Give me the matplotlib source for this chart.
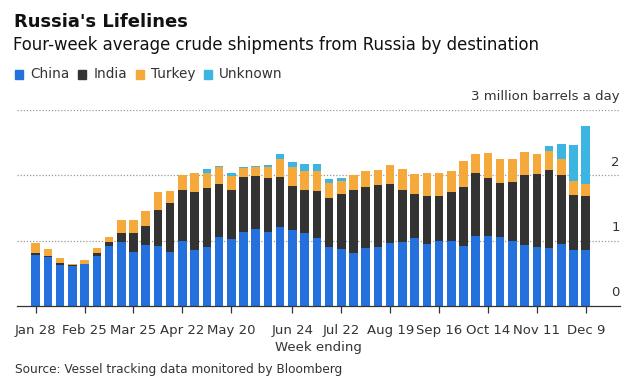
import numpy as np
import pandas as pd
from matplotlib import pyplot as plt

# weekly bars, week ending Fridays of 2022
weeks = pd.date_range("2022-01-28", "2022-12-09", freq="7D")

# million barrels a day, four-week average
china = [0.78, 0.75, 0.63, 0.61, 0.65, 0.77, 0.92, 0.98, 0.83, 0.93,
         0.92, 0.83, 0.99, 0.86, 0.91, 1.06, 1.03, 1.13, 1.18, 1.14,
         1.21, 1.16, 1.12, 1.04, 0.90, 0.88, 0.81, 0.89, 0.91, 0.97,
         0.98, 1.04, 0.95, 1.00, 1.00, 0.92, 1.07, 1.07, 1.06, 1.00,
         0.94, 0.90, 0.89, 0.95, 0.86, 0.86]
india = [0.03, 0.02, 0.03, 0.02, 0.00, 0.04, 0.06, 0.13, 0.28, 0.29,
         0.55, 0.74, 0.78, 0.89, 0.89, 0.81, 0.75, 0.84, 0.81, 0.82,
         0.77, 0.68, 0.66, 0.72, 0.75, 0.84, 0.97, 0.93, 0.94, 0.89,
         0.80, 0.68, 0.73, 0.69, 0.75, 0.90, 0.96, 0.89, 0.82, 0.90,
         1.06, 1.12, 1.19, 1.05, 0.84, 0.83]
turkey = [0.15, 0.10, 0.08, 0.01, 0.05, 0.08, 0.07, 0.21, 0.21, 0.24,
          0.28, 0.19, 0.24, 0.29, 0.24, 0.25, 0.21, 0.14, 0.13, 0.17,
          0.27, 0.29, 0.28, 0.30, 0.24, 0.19, 0.22, 0.25, 0.23, 0.30,
          0.32, 0.30, 0.36, 0.35, 0.32, 0.40, 0.29, 0.38, 0.37, 0.35,
          0.36, 0.31, 0.30, 0.25, 0.22, 0.17]
unknown = [0.00, 0.00, 0.00, 0.00, 0.00, 0.00, 0.00, 0.00, 0.00, 0.00,
           0.00, 0.00, 0.00, 0.00, 0.05, 0.02, 0.04, 0.02, 0.02, 0.03,
           0.07, 0.07, 0.11, 0.11, 0.06, 0.05, 0.00, 0.00, 0.00, 0.00,
           0.00, 0.00, 0.00, 0.00, 0.00, 0.00, 0.00, 0.00, 0.00, 0.00,
           0.00, 0.00, 0.07, 0.23, 0.55, 0.89]

tick_labels = ["Jan 28", "Feb 25", "Mar 25", "Apr 22", "May 20", "Jun 24",
               "Jul 22", "Aug 19", "Sep 16", "Oct 14", "Nov 11", "Dec 9"]
y_ticks = [0, 1, 2]

colors = {"China": "#2471de", "India": "#333333",
          "Turkey": "#f6a93b", "Unknown": "#3db5e2"}

fig = plt.figure(figsize=(6.35, 3.9), dpi=100)
fig.patch.set_facecolor("white")
ax = fig.add_axes([17 / 635, 84 / 390, 603 / 635, 196 / 390])

x = np.arange(len(weeks))
bottom = np.zeros(len(weeks))
for name, vals in [("China", china), ("India", india),
                   ("Turkey", turkey), ("Unknown", unknown)]:
    vals = np.array(vals)
    ax.bar(x, vals, bottom=bottom, width=0.7, color=colors[name], zorder=2)
    bottom += vals

ax.set_xlim(-1.53, 47.8)
ax.set_ylim(0, 3)

# dotted gridlines with labels sitting above them on the right
for v in [1, 2, 3]:
    ax.axhline(v, color="#999999", lw=0.9, ls=(0, (1, 1.5)), zorder=1)
for v in y_ticks:
    ax.text(47.8, v + 0.1, str(v), ha="right", va="bottom",
            fontsize=9.5, color="#333333")
ax.text(47.8, 3.1, "3 million barrels a day", ha="right", va="bottom",
        fontsize=9.5, color="#333333")

for side in ["top", "right", "left"]:
    ax.spines[side].set_visible(False)
ax.spines["bottom"].set_color("#333333")
ax.spines["bottom"].set_linewidth(0.9)
ax.set_yticks([])

labels_by_week = [d.strftime("%b %-d") for d in weeks]
tick_pos = [labels_by_week.index(t) for t in tick_labels]
ax.set_xticks(tick_pos)
ax.set_xticklabels(tick_labels, fontsize=9.5, color="#333333")
ax.tick_params(axis="x", length=5, width=0.9, color="#333333", pad=8)
ax.set_xlabel("Week ending", fontsize=9.5, color="#333333", labelpad=3)

fig.text(14 / 635, 1 - 22 / 390, "Russia's Lifelines", fontsize=13,
         fontweight="bold", va="center", color="#111111")
fig.text(13 / 635, 1 - 45 / 390,
         "Four-week average crude shipments from Russia by destination",
         fontsize=11.9, va="center", color="#111111")

# legend row
lx = 15
for name in ["China", "India", "Turkey", "Unknown"]:
    fig.patches.append(plt.Rectangle((lx / 635, 1 - 78.5 / 390), 8 / 635, 8 / 390,
                                     transform=fig.transFigure,
                                     color=colors[name]))
    t = fig.text((lx + 15) / 635, 1 - 74 / 390, name, fontsize=9.8,
                 va="center", color="#333333")
    fig.canvas.draw()
    bb = t.get_window_extent()
    lx = bb.x1 + 9

fig.text(15 / 635, 1 - 370 / 390, "Source: Vessel tracking data monitored by Bloomberg",
         fontsize=8.7, va="center", color="#333333")

fig.savefig("out.png", dpi=100)
